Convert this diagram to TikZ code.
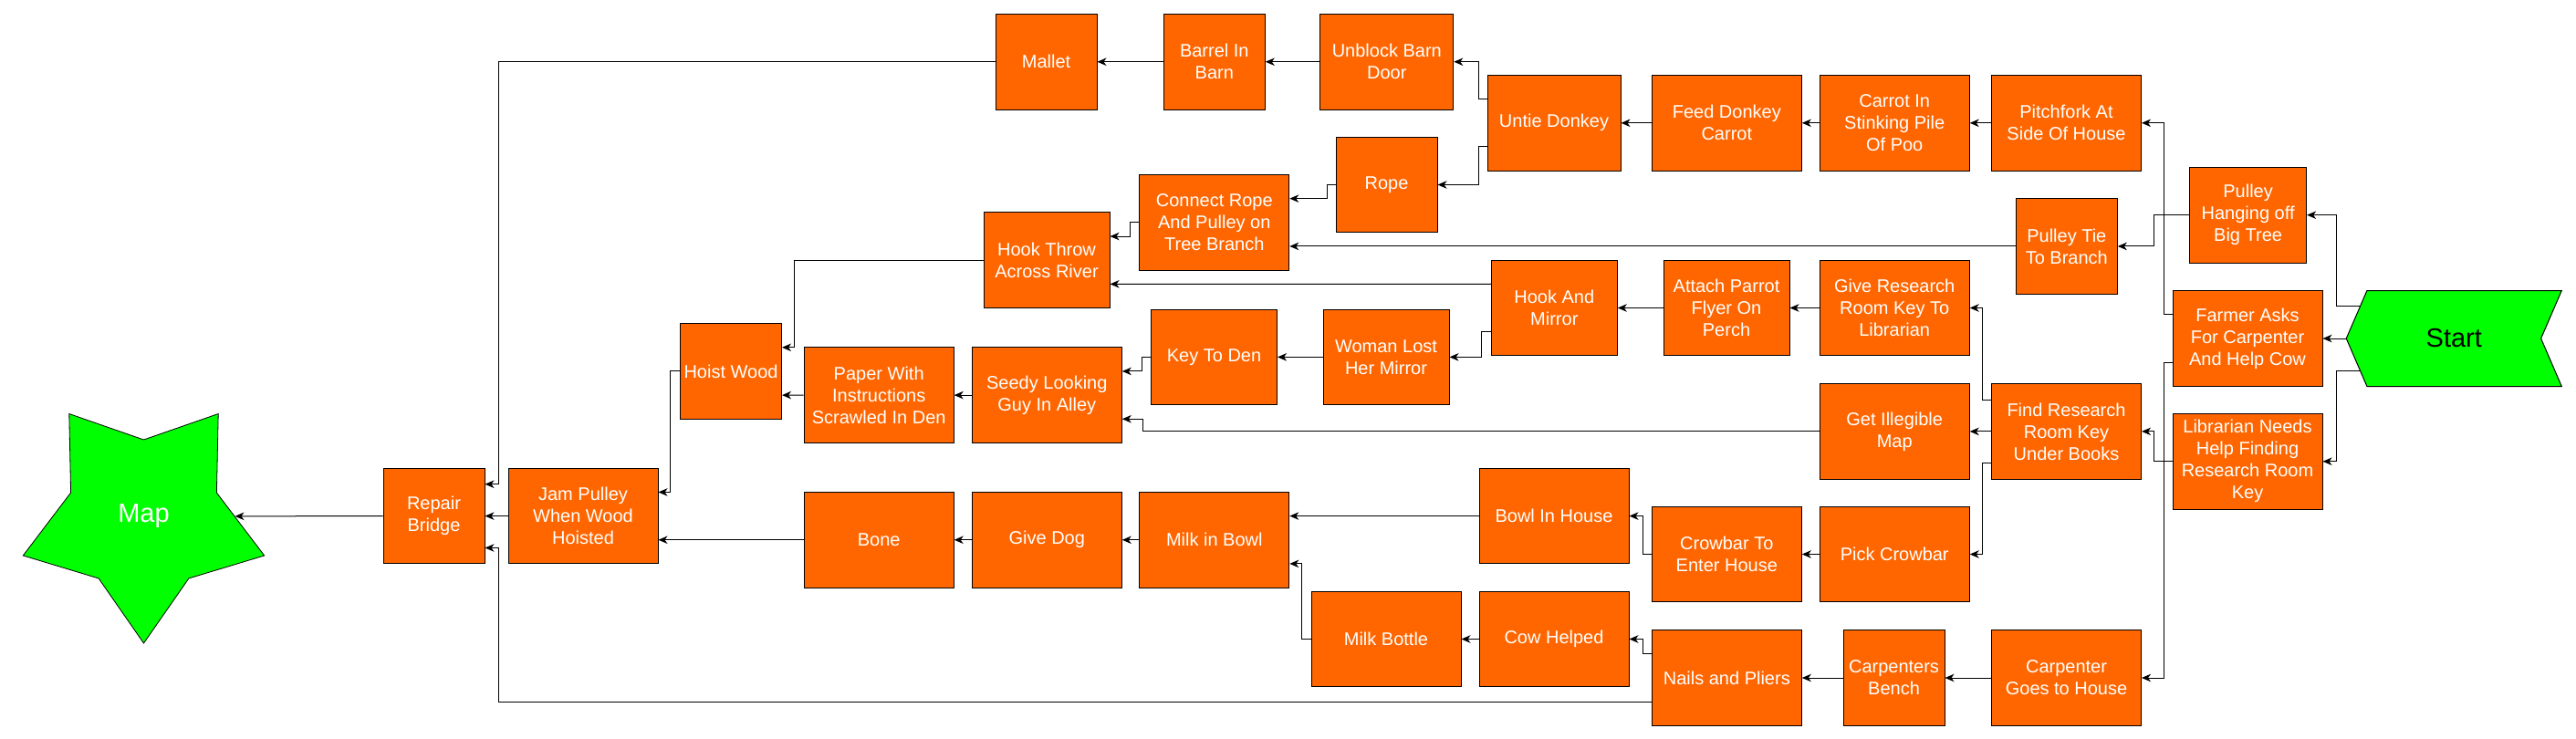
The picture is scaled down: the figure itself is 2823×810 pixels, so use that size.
\documentclass[tikz,border=0pt]{standalone}
\usepackage{fontspec}
\setmainfont{Liberation Sans}
\usetikzlibrary{arrows.meta,shapes.geometric,shapes.symbols}
\definecolor{steporange}{HTML}{FF6600}
\definecolor{goalgreen}{HTML}{00FF00}

\begin{document}
\begin{tikzpicture}[scale=1.000000,x=1pt,y=-1pt,
  box/.style={draw=black,line width=1pt,outer sep=0.5pt,fill=steporange,text=white,
    inner sep=0pt,minimum height=104.600000pt,minimum width=#1,align=center,
    font=\fontsize{20}{24}\selectfont},
  box/.default=164pt,
  link/.style={draw=black,line width=1pt,-{Stealth[length=10pt,width=8.5pt,inset=3pt]}},
  startflag/.style={signal,signal to=west,signal from=east,signal pointer angle=133.300000,
    draw=black,line width=1pt,outer sep=0.5pt,fill=goalgreen,text=black,inner sep=0pt,
    minimum width=236pt,minimum height=105pt,font=\fontsize{29}{34}\selectfont},
  goalstar/.style={star,star points=5,star point ratio=1.655000,shape border rotate=180,
    draw=black,line width=0.8pt,outer sep=0.4pt,fill=goalgreen,text=white,inner sep=0pt,
    minimum size=278pt,font=\fontsize{29}{34}\selectfont}]
\fill[color=white] (0.000000, 0.000000) rectangle (2823.000000, 810.000000);
% Drawing start and goal
\node[startflag,anchor=west] (start) at (2570.700000,371.000000) {Start};
\node[goalstar] (map) at (157.500000,566.000000) {Map};
% Row 1: barn
\node[box=111pt] (mallet) at (1146.500000,67.750000) {Mallet};
\node[box=111pt] (barrel) at (1330.800000,67.750000) {Barrel In\\Barn};
\node[box=146pt] (unblock) at (1519.800000,67.750000) {Unblock Barn\\Door};
% Row 2: donkey
\node[box=146pt] (untie) at (1703.000000,134.800000) {Untie Donkey};
\node[box] (feed) at (1892.300000,134.800000) {Feed Donkey\\Carrot};
\node[box] (carrot) at (2076.200000,134.800000) {Carrot In\\Stinking Pile\\Of Poo};
\node[box] (pitchfork) at (2264.500000,134.800000) {Pitchfork At\\Side Of House};
% Row 3: rope and pulley
\node[box=111pt] (rope) at (1519.500000,202.500000) {Rope};
\node[box] (connect) at (1330.800000,243.800000) {Connect Rope\\And Pulley on\\Tree Branch};
\node[box=138pt] (hookthrow) at (1147.000000,285.200000) {Hook Throw\\Across River};
\node[box=111pt] (pulleytie) at (2264.800000,269.950000) {Pulley Tie\\To Branch};
\node[box=128pt] (pulleyhang) at (2463.600000,235.700000) {Pulley\\Hanging off\\Big Tree};
% Row 4: parrot and mirror
\node[box] (giveroom) at (2076.200000,337.500000) {Give Research\\Room Key To\\Librarian};
\node[box=138pt] (parrot) at (1892.000000,337.500000) {Attach Parrot\\Flyer On\\Perch};
\node[box=138pt] (hookmirror) at (1703.300000,337.500000) {Hook And\\Mirror};
\node[box] (farmer) at (2463.000000,371.000000) {Farmer Asks\\For Carpenter\\And Help Cow};
% Row 5: den
\node[box=138pt] (woman) at (1519.000000,391.400000) {Woman Lost\\Her Mirror};
\node[box=138pt] (denkey) at (1330.500000,391.400000) {Key To Den};
\node[box] (seedy) at (1147.300000,433.100000) {Seedy Looking\\Guy In Alley};
\node[box] (paper) at (963.200000,433.100000) {Paper With\\Instructions\\Scrawled In Den};
\node[box=111pt] (hoist) at (801.000000,406.950000) {Hoist Wood};
% Row 6: library
\node[box] (getmap) at (2076.200000,472.900000) {Get Illegible\\Map};
\node[box] (findkey) at (2264.500000,472.900000) {Find Research\\Room Key\\Under Books};
\node[box] (librarian) at (2463.000000,505.750000) {Librarian Needs\\Help Finding\\Research Room\\Key};
% Row 7: bridge and dog
\node[box=111pt] (repair) at (475.500000,565.600000) {Repair\\Bridge};
\node[box] (jam) at (639.000000,565.600000) {Jam Pulley\\When Wood\\Hoisted};
\node[box] (bone) at (963.200000,591.750000) {Bone};
\node[box] (givedog) at (1147.300000,591.750000) {Give Dog};
\node[box] (milkbowl) at (1330.800000,591.750000) {Milk in Bowl};
\node[box] (bowlhouse) at (1703.000000,565.600000) {Bowl In House};
\node[box] (crowbar) at (1892.300000,607.500000) {Crowbar To\\Enter House};
\node[box] (pickbar) at (2076.200000,607.500000) {Pick Crowbar};
% Row 8: cow and carpenter
\node[box] (milkbottle) at (1519.000000,700.500000) {Milk Bottle};
\node[box] (cow) at (1703.000000,700.500000) {Cow Helped};
\node[box] (nails) at (1892.300000,743.000000) {Nails and Pliers};
\node[box=111pt] (bench) at (2075.500000,743.000000) {Carpenters\\Bench};
\node[box] (carpgoes) at (2264.500000,743.000000) {Carpenter\\Goes to House};
% Done with boxes; drawing links
% From start
\draw[link] (start.west) ++(15.000000,-35.100000) -- ++(-25.200000,0) |- (pulleyhang.east);
\draw[link] (start.west) -- (farmer.east);
\draw[link] (start.west) ++(15.000000,35.100000) -- ++(-25.200000,0) |- (librarian.east);
\draw[link] (pulleyhang.west) -- ++(-38.300000,0) |- (pulleytie.east);
\draw[link] (pulleytie.west) -- ([yshift=-26.15pt]connect.east);
\draw[link] (farmer.west) ++(0,-26.150000) -- ++(-9.500000,0) |- (pitchfork.east);
\draw[link] (farmer.west) ++(0,26.150000) -- ++(-9.500000,0) |- (carpgoes.east);
\draw[link] (librarian.west) -- ++(-19.600000,0) |- (findkey.east);
% Library branch
\draw[link] (findkey.west) ++(0,-34.900000) -- ++(-10.000000,0) |- (giveroom.east);
\draw[link] (findkey.west) -- (getmap.east);
\draw[link] (findkey.west) ++(0,34.900000) -- ++(-10.000000,0) |- (pickbar.east);
% Donkey and barn
\draw[link] (pitchfork.west) -- (carrot.east);
\draw[link] (carrot.west) -- (feed.east);
\draw[link] (feed.west) -- (untie.east);
\draw[link] (untie.west) ++(0,-26.150000) -- ++(-9.500000,0) |- (unblock.east);
\draw[link] (untie.west) ++(0,26.150000) -- ++(-9.500000,0) |- (rope.east);
\draw[link] (unblock.west) -- (barrel.east);
\draw[link] (barrel.west) -- (mallet.east);
\draw[link] (mallet.west) -- ++(-544.500000,0) |- ([yshift=34.9pt]repair.east);
% Rope and pulley
\draw[link] (rope.west) -- ++(-9.300000,0) |- ([yshift=26.15pt]connect.east);
\draw[link] (connect.west) -- ++(-10.000000,0) |- ([yshift=26.15pt]hookthrow.east);
\draw[link] (hookthrow.west) -- ++(-207.000000,0) |- ([yshift=26.15pt]hoist.east);
% Parrot, mirror and den
\draw[link] (giveroom.west) -- (parrot.east);
\draw[link] (parrot.west) -- (hookmirror.east);
\draw[link] ([yshift=26.15pt]hookmirror.west) -- ([yshift=-26.15pt]hookthrow.east);
\draw[link] (hookmirror.west) ++(0,26.150000) -- ++(-10.200000,0) |- (woman.east);
\draw[link] (woman.west) -- (denkey.east);
\draw[link] (denkey.west) -- ++(-9.400000,0) |- ([yshift=26.15pt]seedy.east);
\draw[link] (getmap.west) -- ++(-741.400000,0) |- ([yshift=-26.15pt]seedy.east);
\draw[link] (seedy.west) -- (paper.east);
\draw[link] (paper.west) -- ([yshift=-26.15pt]hoist.east);
\draw[link] (hoist.west) -- ++(-10.500000,0) |- ([yshift=26.15pt]jam.east);
% Crowbar, milk and dog
\draw[link] (pickbar.west) -- (crowbar.east);
\draw[link] (crowbar.west) -- ++(-9.600000,0) |- (bowlhouse.east);
\draw[link] (bowlhouse.west) -- ([yshift=26.15pt]milkbowl.east);
\draw[link] (milkbottle.west) -- ++(-10.300000,0) |- ([yshift=-26.15pt]milkbowl.east);
\draw[link] (milkbowl.west) -- (givedog.east);
\draw[link] (givedog.west) -- (bone.east);
\draw[link] (bone.west) -- ([yshift=-26.15pt]jam.east);
% Carpenter and cow
\draw[link] (carpgoes.west) -- (bench.east);
\draw[link] (bench.west) -- (nails.east);
\draw[link] (nails.west) ++(0,-26.150000) -- ++(-9.600000,0) |- (cow.east);
\draw[link] (cow.west) -- (milkbottle.east);
\draw[link] (nails.west) ++(0,26.150000) -- ++(-1263.500000,0) |- ([yshift=-34.9pt]repair.east);
% Bridge to goal
\draw[link] (jam.west) -- (repair.east);
\draw[link] (repair.west) -- (map);
% Done with links
\end{tikzpicture}
\end{document}
